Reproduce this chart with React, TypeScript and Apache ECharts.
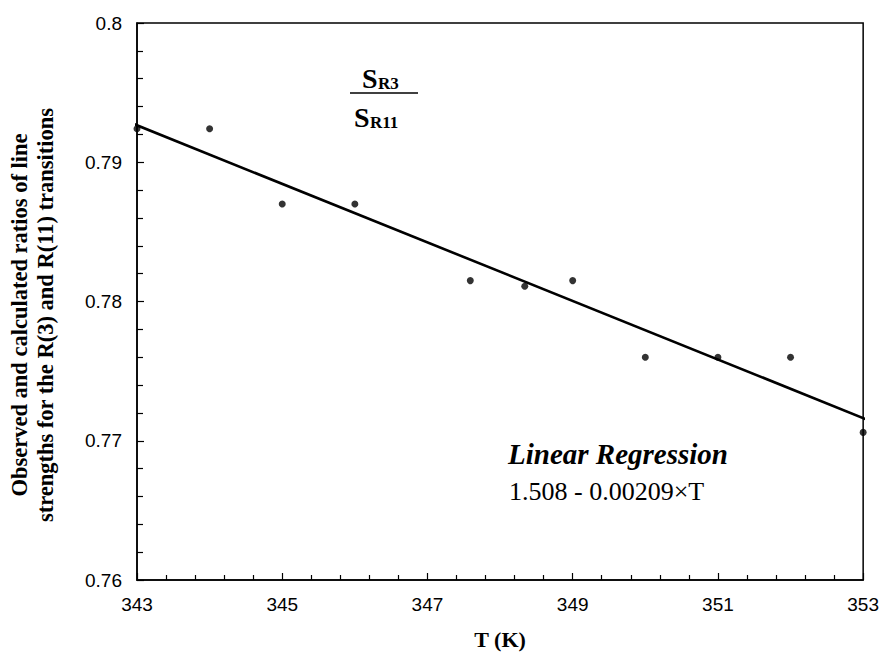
import React, { useEffect, useRef } from "react";
import * as echarts from "echarts";

// Observed ratios S_R3 / S_R11 versus temperature
const temperatures = [343, 344, 345, 346, 347.59, 348.34, 349, 350, 351, 352, 353];
const ratios = [0.7924, 0.7924, 0.787, 0.787, 0.7815, 0.7811, 0.7815, 0.776, 0.776, 0.776, 0.7706];

// Regression line end points as drawn
const fitT = [342.93, 353.11];
const fitRatio = [0.7928, 0.7714];

const xTicks = { min: 343, max: 353, interval: 2 };
const yTicks = { min: 0.76, max: 0.8, interval: 0.01 };

const yNameLines = [
  "Observed and calculated ratios of line",
  "strengths for the R(3) and R(11) transitions",
];
const xName = "T (K)";
const regTitle = "Linear Regression";
const regFormula = "1.508 - 0.00209\u00d7T";

const SERIF = "'Liberation Serif', 'Times New Roman', serif";
const SANS = "'Liberation Sans', Arial, sans-serif";

export default function App() {
  const ref = useRef<HTMLDivElement>(null);
  useEffect(() => {
    document.body.style.margin = "0";
    const chart = echarts.init(ref.current!, null, { renderer: "svg" });
    const scatterData = temperatures.map((t, i) => [t, ratios[i]]);
    const fitData = fitT.map((t, i) => [t, fitRatio[i]]);
    const txt = (x: number, y: number, text: string, size: number, extra: any = {}, rot = 0, align = "left") => ({
      type: "text",
      x,
      y,
      rotation: rot,
      style: {
        text,
        fontFamily: SERIF,
        fontWeight: "bold",
        fontSize: size,
        fill: "#000",
        textAlign: align,
        textVerticalAlign: "middle",
        ...extra,
      },
    });
    chart.setOption({
      animation: false,
      grid: {
        left: 137,
        top: 23,
        right: 17,
        bottom: 74,
        show: true,
        borderColor: "#000",
        borderWidth: 1.5,
      },
      xAxis: {
        type: "value",
        min: xTicks.min,
        max: xTicks.max,
        interval: xTicks.interval,
        name: xName,
        nameLocation: "middle",
        nameGap: 48,
        nameTextStyle: { fontFamily: SERIF, fontWeight: "bold", fontSize: 22, color: "#000" },
        axisLine: { lineStyle: { color: "#000", width: 1.5 } },
        axisTick: { inside: true, length: 7, lineStyle: { color: "#000", width: 1.2 } },
        minorTick: { show: true, splitNumber: 5, length: 5, lineStyle: { color: "#000", width: 1.2 } },
        splitLine: { show: false },
        axisLabel: { fontFamily: SANS, fontSize: 19, color: "#000", margin: 15 },
      },
      yAxis: {
        type: "value",
        min: yTicks.min,
        max: yTicks.max,
        interval: yTicks.interval,
        axisLine: { show: true, lineStyle: { color: "#000", width: 1.5 } },
        axisTick: { show: true, inside: true, length: 7, lineStyle: { color: "#000", width: 1.2 } },
        minorTick: { show: true, splitNumber: 5, length: 6, lineStyle: { color: "#000", width: 1.2 } },
        splitLine: { show: false },
        axisLabel: { fontFamily: SANS, fontSize: 19, color: "#000", margin: 15 },
      },
      graphic: [
        txt(19, 315, yNameLines[0], 22.5, {}, Math.PI / 2, "center"),
        txt(45, 315, yNameLines[1], 22.5, {}, Math.PI / 2, "center"),
        txt(362, 78, "S", 28),
        txt(378, 83, "R3", 17),
        {
          type: "line",
          shape: { x1: 350, y1: 93, x2: 418, y2: 93 },
          style: { stroke: "#000", lineWidth: 1.5 },
        },
        txt(354, 117, "S", 28),
        txt(370, 122, "R11", 17),
        txt(508, 454, regTitle, 29, { fontStyle: "italic" }),
        txt(509, 491, regFormula, 26, { fontWeight: "normal" }),
      ],
      series: [
        {
          type: "line",
          data: fitData,
          clip: false,
          symbol: "none",
          lineStyle: { color: "#000", width: 2.6 },
          z: 2,
        },
        {
          type: "scatter",
          data: scatterData,
          symbol: "circle",
          symbolSize: 7,
          itemStyle: { color: "#000" },
          z: 3,
        },
      ],
    });
    return () => chart.dispose();
  }, []);
  return <div ref={ref} style={{ width: 882, height: 655 }} />;
}
